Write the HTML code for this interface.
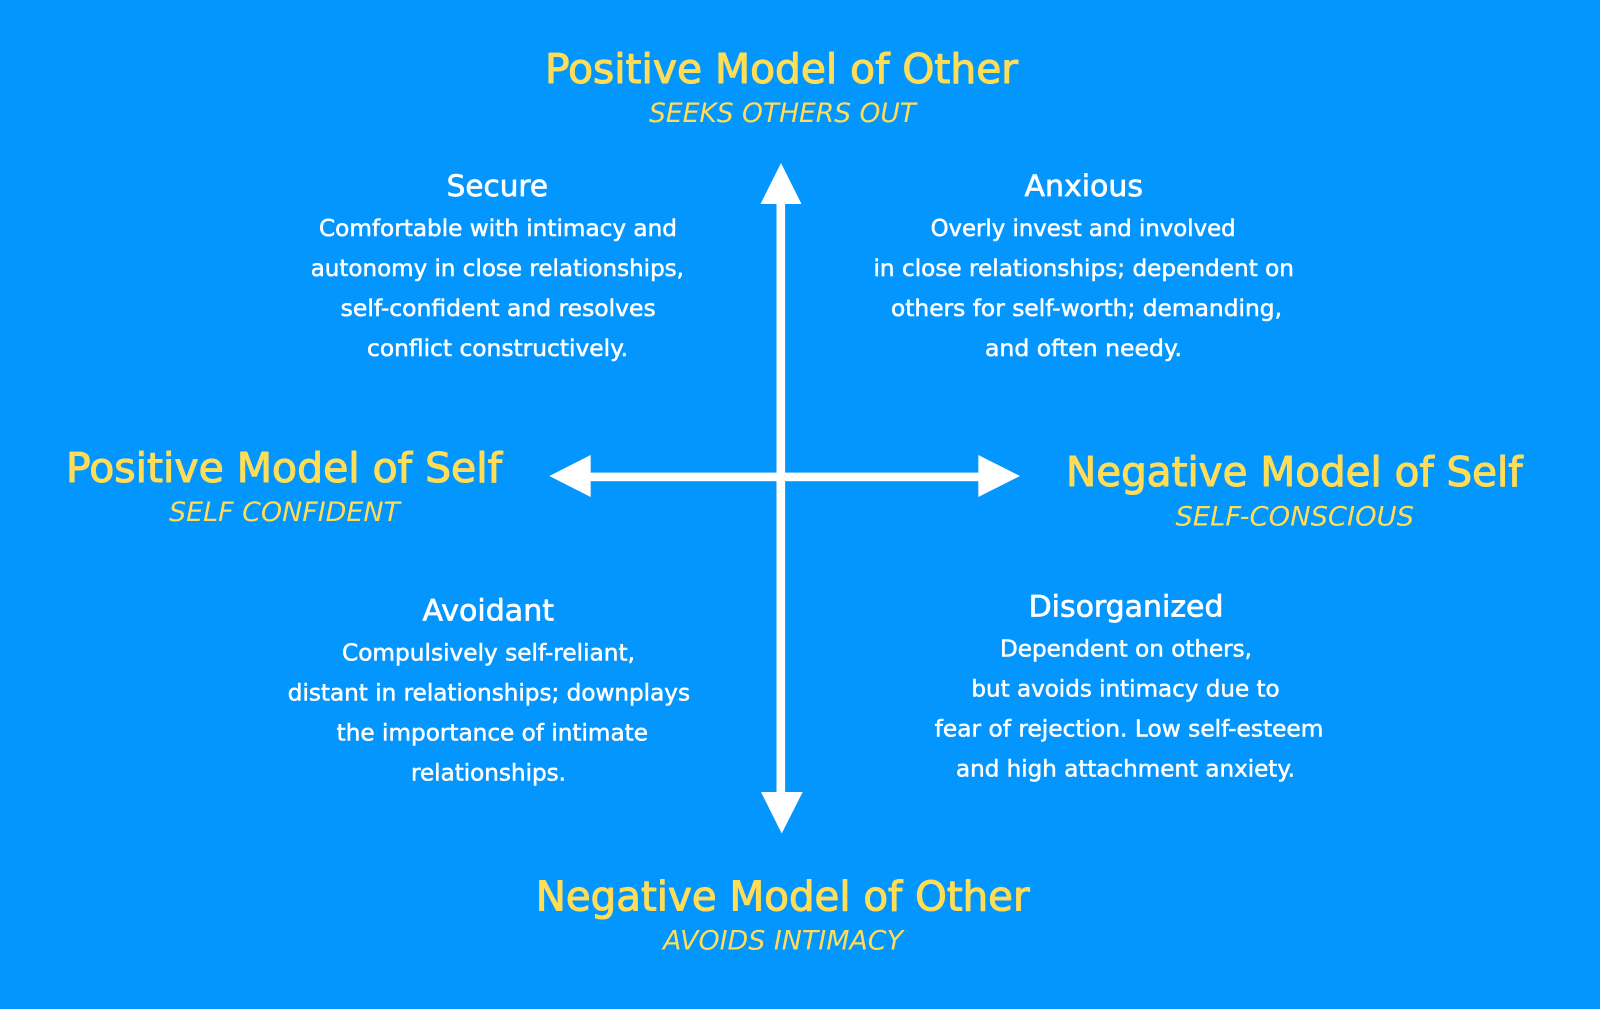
<!DOCTYPE html>
<html>
<head>
<meta charset="utf-8">
<style>
html,body{margin:0;padding:0;background:#0496ff;}
svg{display:block;}
text{font-family:"DejaVu Sans","Liberation Sans",sans-serif;stroke-linejoin:round;}
.h{font-size:41px;fill:#ffdd57;stroke:#ffdd57;stroke-width:1.1px;}
.s{font-size:27px;fill:#ffdd57;font-style:italic;}
.t{font-size:29px;fill:#fff;stroke:#fff;stroke-width:.7px;}
.b{font-size:23px;fill:#fff;stroke:#fff;stroke-width:.55px;}
</style>
</head>
<body>
<svg width="1600" height="1009" viewBox="0 0 1600 1009" xmlns="http://www.w3.org/2000/svg">
<rect width="1600" height="1009" fill="#0496ff"/>
<rect x="590" y="472.6" width="389" height="8.6" fill="#fff"/>
<rect x="776.5" y="203" width="8.6" height="590" fill="#fff"/>
<polygon points="781,163 760.5,204 801.5,204" fill="#fff"/>
<polygon points="781.7,833.5 761,792 802.7,792" fill="#fff"/>
<polygon points="549.3,476 590.7,455 590.7,497" fill="#fff"/>
<polygon points="1020,476 978.3,455 978.3,497" fill="#fff"/>

<text class="h" x="545" y="83" textLength="473" lengthAdjust="spacingAndGlyphs">Positive Model of Other</text>
<text class="s" x="649" y="122" textLength="267" lengthAdjust="spacingAndGlyphs">SEEKS OTHERS OUT</text>

<text class="t" x="446.7" y="196" textLength="101.3" lengthAdjust="spacingAndGlyphs">Secure</text>
<text class="b" x="319" y="236" textLength="358" lengthAdjust="spacingAndGlyphs">Comfortable with intimacy and</text>
<text class="b" x="310.7" y="276" textLength="373.3" lengthAdjust="spacingAndGlyphs">autonomy in close relationships,</text>
<text class="b" x="340.7" y="316" textLength="315" lengthAdjust="spacingAndGlyphs">self-confident and resolves</text>
<text class="b" x="367" y="356" textLength="261" lengthAdjust="spacingAndGlyphs">conflict constructively.</text>

<text class="t" x="1024.5" y="196" textLength="118.5" lengthAdjust="spacingAndGlyphs">Anxious</text>
<text class="b" x="930.6" y="236" textLength="305" lengthAdjust="spacingAndGlyphs">Overly invest and involved</text>
<text class="b" x="873.5" y="276" textLength="420.5" lengthAdjust="spacingAndGlyphs">in close relationships; dependent on</text>
<text class="b" x="891" y="316" textLength="391" lengthAdjust="spacingAndGlyphs">others for self-worth; demanding,</text>
<text class="b" x="985" y="356" textLength="197" lengthAdjust="spacingAndGlyphs">and often needy.</text>

<text class="h" x="66" y="482" textLength="436" lengthAdjust="spacingAndGlyphs">Positive Model of Self</text>
<text class="s" x="169" y="521" textLength="231" lengthAdjust="spacingAndGlyphs">SELF CONFIDENT</text>

<text class="h" x="1066" y="486" textLength="456.5" lengthAdjust="spacingAndGlyphs">Negative Model of Self</text>
<text class="s" x="1175.5" y="525.5" textLength="238.5" lengthAdjust="spacingAndGlyphs">SELF-CONSCIOUS</text>

<text class="t" x="422.5" y="620.5" textLength="131.5" lengthAdjust="spacingAndGlyphs">Avoidant</text>
<text class="b" x="342" y="660.5" textLength="293" lengthAdjust="spacingAndGlyphs">Compulsively self-reliant,</text>
<text class="b" x="287.8" y="700.5" textLength="402.2" lengthAdjust="spacingAndGlyphs">distant in relationships; downplays</text>
<text class="b" x="336.7" y="740.5" textLength="311.3" lengthAdjust="spacingAndGlyphs">the importance of intimate</text>
<text class="b" x="411" y="780.5" textLength="155" lengthAdjust="spacingAndGlyphs">relationships.</text>

<text class="t" x="1028.6" y="616.5" textLength="194.9" lengthAdjust="spacingAndGlyphs">Disorganized</text>
<text class="b" x="1000" y="656.5" textLength="252" lengthAdjust="spacingAndGlyphs">Dependent on others,</text>
<text class="b" x="971.4" y="696.5" textLength="308.2" lengthAdjust="spacingAndGlyphs">but avoids intimacy due to</text>
<text class="b" x="934.7" y="736.5" textLength="388.8" lengthAdjust="spacingAndGlyphs">fear of rejection. Low self-esteem</text>
<text class="b" x="956" y="776.5" textLength="339" lengthAdjust="spacingAndGlyphs">and high attachment anxiety.</text>

<text class="h" x="535.7" y="910.6" textLength="493.9" lengthAdjust="spacingAndGlyphs">Negative Model of Other</text>
<text class="s" x="663" y="949.6" textLength="240" lengthAdjust="spacingAndGlyphs">AVOIDS INTIMACY</text>
</svg>
</body>
</html>
